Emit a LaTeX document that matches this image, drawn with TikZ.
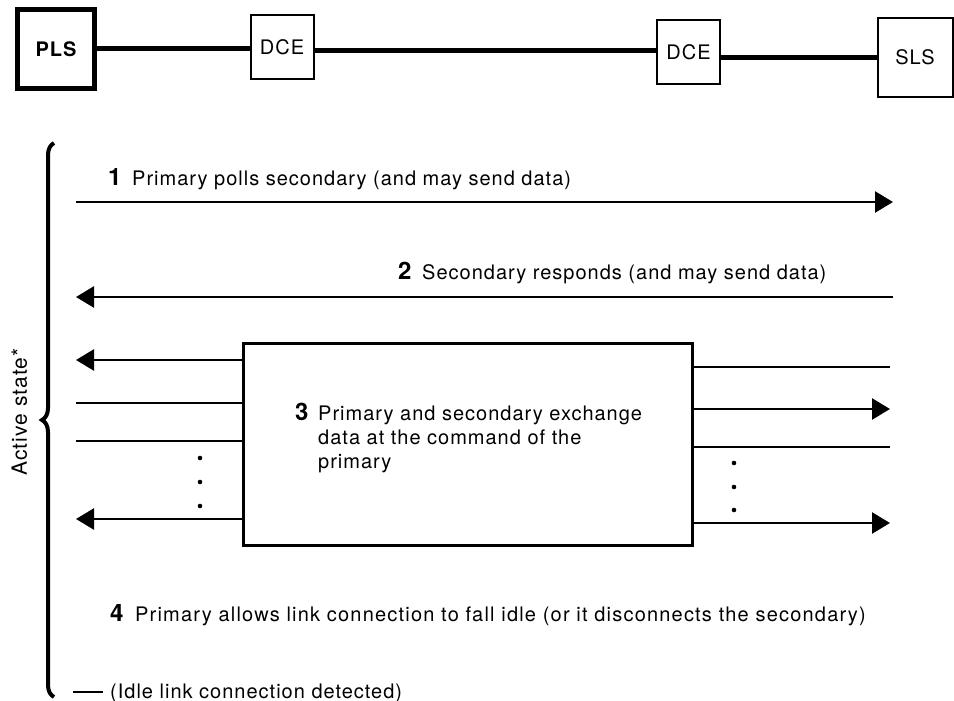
\documentclass[tikz,border=0pt]{standalone}
\usepackage{fontspec}
\setmainfont{TeX Gyre Heros}[LetterSpace=5]
\usetikzlibrary{arrows.meta,decorations.pathreplacing}
\newcommand{\mysz}{\fontsize{20}{24}\selectfont}
\newcommand{\numsz}{\fontsize{24}{28}\selectfont\bfseries}
\begin{document}
\begin{tikzpicture}[x=1pt,y=-1pt,
  txt/.style={inner sep=0pt,font=\mysz},
  num/.style={inner sep=0pt,font=\numsz},
  sbox/.style={draw,line width=2pt,minimum width=63pt,minimum height=64pt,inner sep=0pt,font=\mysz},
  link/.style={line width=5pt},
  arr/.style={line width=2.5pt,-{Triangle[length=18pt,width=21pt]}},
  plain/.style={line width=2.5pt},
  dot/.style={fill=black}]
\useasboundingbox (0,0) rectangle (954,701);
% top row
\node[draw,line width=5pt,minimum width=77pt,minimum height=79pt,inner sep=0pt,font=\mysz\bfseries] (PLS) at (56,49) {PLS};
\node[sbox] (DCEa) at (282,47) {DCE};
\node[sbox] (DCEb) at (688.5,52.5) {DCE};
\node[sbox,minimum width=75pt,minimum height=79pt] (SLS) at (915,57.5) {SLS};
\draw[link] (PLS.east) -- (PLS.east -| DCEa.west);
\draw[link] (DCEa.east) ++(0,4) coordinate (ka) -- (ka -| DCEb.west);
\draw[link] (SLS.west -| DCEb.east) -- (SLS.west);
% brace
\coordinate (bb) at (54,697);
\coordinate (bt) at (54,143);
\draw[line width=4pt,decorate,decoration={brace,amplitude=12pt}] (bb) -- (bt);
\node[inner sep=0pt,font=\fontsize{21}{24}\selectfont,rotate=90,anchor=base] (act) at (27,412) {Active state*};
% step 1
\coordinate (a1l) at (76,202); \coordinate (a1r) at (893,202);
\draw[arr] (a1l) -- (a1r);
\node[num,anchor=base west] (n1) at (108,185) {1};
\node[txt,anchor=base west] (t1) at (132,185) {Primary polls secondary (and may send data)};
% step 2
\coordinate (a2l) at (76,297); \coordinate (a2r) at (893,297);
\draw[arr] (a2r) -- (a2l);
\node[num,anchor=base west] (n2) at (398,279) {2};
\node[txt,anchor=base west] (t2) at (422,279) {Secondary responds (and may send data)};
% step 3 box
\node[draw,line width=3pt,minimum width=449pt,minimum height=202pt,inner sep=0pt] (box) at (467.5,444) {};
\coordinate (l1) at (76,360); \coordinate (l2) at (76,403); \coordinate (l3) at (76,441); \coordinate (l4) at (76,519);
\draw[arr] (l1 -| box.west) -- (l1);
\draw[plain] (l2 -| box.west) -- (l2);
\draw[plain] (l3 -| box.west) -- (l3);
\draw[arr] (l4 -| box.west) -- (l4);
\coordinate (r1) at (890,367); \coordinate (r2) at (890,409); \coordinate (r3) at (890,447); \coordinate (r4) at (890,523);
\draw[plain] (r1 -| box.east) -- (r1);
\draw[arr] (r2 -| box.east) -- (r2);
\draw[plain] (r3 -| box.east) -- (r3);
\draw[arr] (r4 -| box.east) -- (r4);
\foreach \yy in {458,482,506} \fill[dot] (200,\yy) circle (2.3pt);
\foreach \yy in {463,487,510} \fill[dot] (734,\yy) circle (2.3pt);
\node[num,anchor=base west] (n3) at (295,420) {3};
\node[txt,anchor=base west] (t3a) at (318,420) {Primary and secondary exchange};
\node[txt,anchor=base west] (t3b) at (318,444) {data at the command of the};
\node[txt,anchor=base west] (t3c) at (318,468) {primary};
% step 4
\node[num,anchor=base west] (n4) at (110,621) {4};
\node[txt,anchor=base west,font=\mysz\addfontfeature{LetterSpace=6}] (t4) at (135,621) {Primary allows link connection to fall idle (or it disconnects the secondary)};
% idle
\node[txt,anchor=base west] (idle) at (110,698) {(Idle link connection detected)};
\coordinate (dsh) at (73,692);
\draw[line width=1.8pt,shorten >=7pt] (dsh) -- (dsh -| idle.west);
\end{tikzpicture}
\end{document}
